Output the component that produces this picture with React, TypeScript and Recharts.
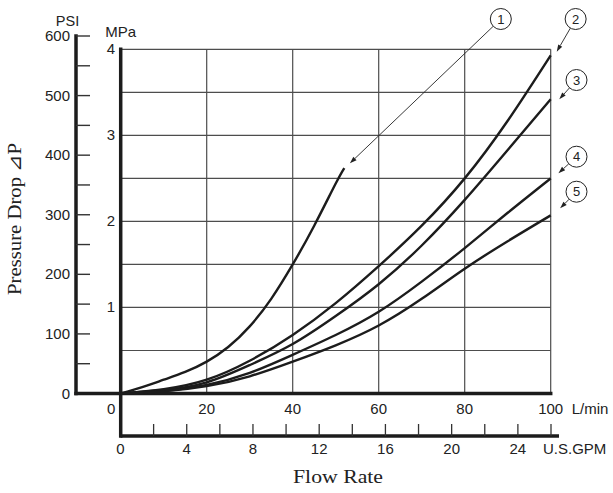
import React from 'react';
import { LineChart, Line, XAxis, YAxis, ReferenceLine } from 'recharts';

// ---------- data ----------
const flowRate1 = [0, 5, 10, 15, 20, 25, 30, 35, 40, 45, 50, 52];
const pressure1 = [0, 0.075, 0.16, 0.25, 0.37, 0.54, 0.78, 1.1, 1.5, 1.95, 2.44, 2.62];
const flowRate = [0, 10, 20, 30, 40, 50, 60, 70, 80, 90, 100];
const pressure2 = [0, 0.05, 0.16, 0.38, 0.68, 1.05, 1.48, 1.95, 2.5, 3.17, 3.93];
const pressure3 = [0, 0.04, 0.13, 0.33, 0.575, 0.9, 1.27, 1.72, 2.25, 2.83, 3.42];
const pressure4 = [0, 0.03, 0.1, 0.24, 0.45, 0.68, 0.95, 1.3, 1.69, 2.1, 2.5];
const pressure5 = [0, 0.025, 0.085, 0.2, 0.37, 0.56, 0.79, 1.1, 1.45, 1.77, 2.07];

const lpmTicks = [0, 20, 40, 60, 80, 100];
const lpmGrid = [20, 40, 60, 80, 100];
const gpmTicks = [0, 2, 4, 6, 8, 10, 12, 14, 16, 18, 20, 22, 24, 26];
const mpaTicks = [1, 2, 3, 4];
const mpaGrid = [0.5, 1, 1.5, 2, 2.5, 3, 3.5, 4];
const psiTicks = [0, 50, 100, 150, 200, 250, 300, 350, 400, 450, 500, 550, 600];

const calloutNames = ['1', '2', '3', '4', '5'];
const calloutCircleX = [88.4, 105.8, 106.0, 106.0, 106.0];
const calloutCircleY = [4.352, 4.352, 3.643, 2.752, 2.345];
const calloutTipX = [53.3, 101.4, 102.0, 101.8, 102.2];
const calloutTipY = [2.675, 3.972, 3.419, 2.559, 2.152];

// ---------- layout ----------
const W = 613;
const H = 493;
const PL = 76;
const PR = 559;
const PT = 36;
const PB = 436;
const X0PX = 120.7;
const X100PX = 550.7;
const KX = (X100PX - X0PX) / 100;
const G0PX = 120.5;
const G26PX = 551;
const KG = (G26PX - G0PX) / 26;
const Y0PX = 393.5;
const Y4PX = 49.3;
const KY = (Y0PX - Y4PX) / 4;
const KP = (Y0PX - PT) / 600;

const lpmDomain = [(PL - X0PX) / KX, (PR - X0PX) / KX];
const gpmDomain = [(PL - G0PX) / KG, (PR - G0PX) / KG];
const mpaDomain = [(Y0PX - PB) / KY, (Y0PX - PT) / KY];
const psiDomain = [(Y0PX - PB) / KP, 600];

const toPts = (xs: number[], ys: number[]) => xs.map((x, i) => ({ x, y: ys[i] }));
const series = [
  toPts(flowRate1, pressure1),
  toPts(flowRate, pressure2),
  toPts(flowRate, pressure3),
  toPts(flowRate, pressure4),
  toPts(flowRate, pressure5),
];

const sans = { fontFamily: '"Liberation Sans", Arial, sans-serif', fontSize: 15, fill: '#222' };
const serif = { fontFamily: '"Liberation Serif", "Times New Roman", serif', fontSize: 18, fill: '#222' };
const INK = '#1c1c1c';
const GRID = '#4d4d4d';

const LpmTick = (p: any) => {
  const v = p.payload.value;
  const x = p.x;
  const lx = v === 0 ? x - 9.5 : x;
  return (
    <g>
      <text x={lx} y={Y0PX + 20} textAnchor="middle" {...sans}>{v}</text>
      {v === 100 && (
        <text x={x + 21} y={Y0PX + 20} textAnchor="start" {...sans}>L/min</text>
      )}
    </g>
  );
};

const GpmTick = (p: any) => {
  const v = p.payload.value;
  const x = p.x;
  return (
    <g>
      {v > 0 && <line x1={x} y1={PB} x2={x} y2={PB - 12} stroke="#333" strokeWidth={1.3} />}
      {v % 4 === 0 && v <= 24 && (
        <text x={x} y={PB + 18} textAnchor="middle" {...sans}>{v}</text>
      )}
      {v === 26 && (
        <text x={x - 8} y={PB + 18} textAnchor="start" {...sans}>U.S.GPM</text>
      )}
    </g>
  );
};

const MpaTick = (p: any) => {
  const v = p.payload.value;
  const y = p.y;
  return (
    <g>
      <text x={X0PX - 5.5} y={y + 5} textAnchor="end" {...sans}>{v}</text>
      {v === 4 && (
        <text x={X0PX} y={y - 12} textAnchor="middle" {...sans}>MPa</text>
      )}
    </g>
  );
};

const PsiTick = (p: any) => {
  const v = p.payload.value;
  const y = p.y;
  return (
    <g>
      {v > 0 && <line x1={PL} y1={y} x2={PL + 14} y2={y} stroke="#333" strokeWidth={1.4} />}
      {v % 100 === 0 && (
        <text x={PL - 6} y={y + 5} textAnchor="end" {...sans}>{v}</text>
      )}
      {v === 600 && (
        <text x={67.5} y={y - 10.5} textAnchor="middle" {...sans} fontSize={14.5}>PSI</text>
      )}
    </g>
  );
};

const FlowTitle = () => (
  <text x={338} y={483} textAnchor="middle" textLength={90} lengthAdjust="spacingAndGlyphs" {...serif}>
    Flow Rate
  </text>
);

const PressureTitle = () => (
  <text
    x={21}
    y={219}
    transform="rotate(-90, 21, 219)"
    textAnchor="middle"
    textLength={152}
    lengthAdjust="spacingAndGlyphs"
    {...serif}
  >
    Pressure Drop ⊿P
  </text>
);

const makeCallout = (txt: string) => (p: any) => {
  const { x1, y1, x2, y2 } = p;
  const dx = x2 - x1;
  const dy = y2 - y1;
  const len = Math.hypot(dx, dy) || 1;
  const ux = dx / len;
  const uy = dy / len;
  const r = 10.5;
  const sx = x1 + ux * r;
  const sy = y1 + uy * r;
  const ah = 7;
  const aw = 2.3;
  const bx = x2 - ux * ah;
  const by = y2 - uy * ah;
  const nx = -uy;
  const ny = ux;
  return (
    <g>
      <line x1={sx} y1={sy} x2={bx} y2={by} stroke="#222" strokeWidth={0.9} />
      <polygon
        points={`${x2},${y2} ${bx + nx * aw},${by + ny * aw} ${bx - nx * aw},${by - ny * aw}`}
        fill="#222"
      />
      <circle cx={x1} cy={y1} r={r} fill="#fff" stroke="#222" strokeWidth={1} />
      <text x={x1} y={y1 + 4.7} textAnchor="middle" fontFamily='"Liberation Sans", Arial, sans-serif' fontSize={13} fill="#222">
        {txt}
      </text>
    </g>
  );
};

export default function App() {
  return (
    <div style={{ position: 'absolute', left: 0, top: 0, background: '#fff' }}>
      <LineChart width={W} height={H} margin={{ top: PT, right: W - PR, bottom: H - PB - 2, left: PL - 2 }}>
        <XAxis
          xAxisId="lpm"
          type="number"
          dataKey="x"
          domain={lpmDomain}
          allowDataOverflow
          ticks={lpmTicks}
          interval={0}
          height={1}
          axisLine={false}
          tickLine={false}
          tickSize={0}
          tickMargin={0}
          tick={LpmTick}
        />
        <XAxis
          xAxisId="gpm"
          type="number"
          dataKey="x"
          domain={gpmDomain}
          allowDataOverflow
          ticks={gpmTicks}
          interval={0}
          height={1}
          axisLine={false}
          tickLine={false}
          tickSize={0}
          tickMargin={0}
          tick={GpmTick}
          label={<FlowTitle />}
        />
        <YAxis
          yAxisId="mpa"
          type="number"
          domain={mpaDomain}
          allowDataOverflow
          ticks={mpaTicks}
          interval={0}
          width={1}
          axisLine={false}
          tickLine={false}
          tickSize={0}
          tickMargin={0}
          tick={MpaTick}
        />
        <YAxis
          yAxisId="psi"
          type="number"
          domain={psiDomain}
          allowDataOverflow
          ticks={psiTicks}
          interval={0}
          width={1}
          axisLine={false}
          tickLine={false}
          tickSize={0}
          tickMargin={0}
          tick={PsiTick}
          label={<PressureTitle />}
        />

        {mpaGrid.map((v) => (
          <ReferenceLine
            key={'h' + v}
            xAxisId="lpm"
            yAxisId="mpa"
            segment={[{ x: 0, y: v }, { x: 100, y: v }]}
            stroke={GRID}
            strokeWidth={1.2}
            ifOverflow="visible"
          />
        ))}
        {lpmGrid.map((v) => (
          <ReferenceLine
            key={'v' + v}
            xAxisId="lpm"
            yAxisId="mpa"
            segment={[{ x: v, y: 0 }, { x: v, y: 4 }]}
            stroke={GRID}
            strokeWidth={1.2}
            ifOverflow="visible"
          />
        ))}

        {/* thick axis lines */}
        <ReferenceLine
          xAxisId="lpm"
          yAxisId="psi"
          segment={[{ x: lpmDomain[0], y: 0 }, { x: lpmDomain[0], y: 600 }]}
          stroke={INK}
          strokeWidth={3.5}
          strokeLinecap="square"
          ifOverflow="visible"
        />
        <ReferenceLine
          xAxisId="lpm"
          yAxisId="mpa"
          segment={[{ x: lpmDomain[0], y: 0 }, { x: 100, y: 0 }]}
          stroke={INK}
          strokeWidth={3.5}
          strokeLinecap="square"
          ifOverflow="visible"
        />
        <ReferenceLine
          xAxisId="lpm"
          yAxisId="mpa"
          segment={[{ x: 0, y: mpaDomain[0] }, { x: 0, y: 4 }]}
          stroke={INK}
          strokeWidth={3.5}
          strokeLinecap="square"
          ifOverflow="visible"
        />
        <ReferenceLine
          xAxisId="gpm"
          yAxisId="mpa"
          segment={[{ x: 0, y: mpaDomain[0] }, { x: gpmDomain[1], y: mpaDomain[0] }]}
          stroke={INK}
          strokeWidth={3.5}
          ifOverflow="visible"
        />

        {series.map((d, i) => (
          <Line
            key={'s' + i}
            xAxisId="lpm"
            yAxisId="mpa"
            data={d}
            dataKey="y"
            type="natural"
            stroke={INK}
            strokeWidth={2.4}
            dot={false}
            activeDot={false}
            isAnimationActive={false}
          />
        ))}

        {calloutNames.map((n, i) => (
          <ReferenceLine
            key={'c' + n}
            xAxisId="lpm"
            yAxisId="mpa"
            segment={[
              { x: calloutCircleX[i], y: calloutCircleY[i] },
              { x: calloutTipX[i], y: calloutTipY[i] },
            ]}
            ifOverflow="visible"
            shape={makeCallout(n)}
          />
        ))}
      </LineChart>
    </div>
  );
}
